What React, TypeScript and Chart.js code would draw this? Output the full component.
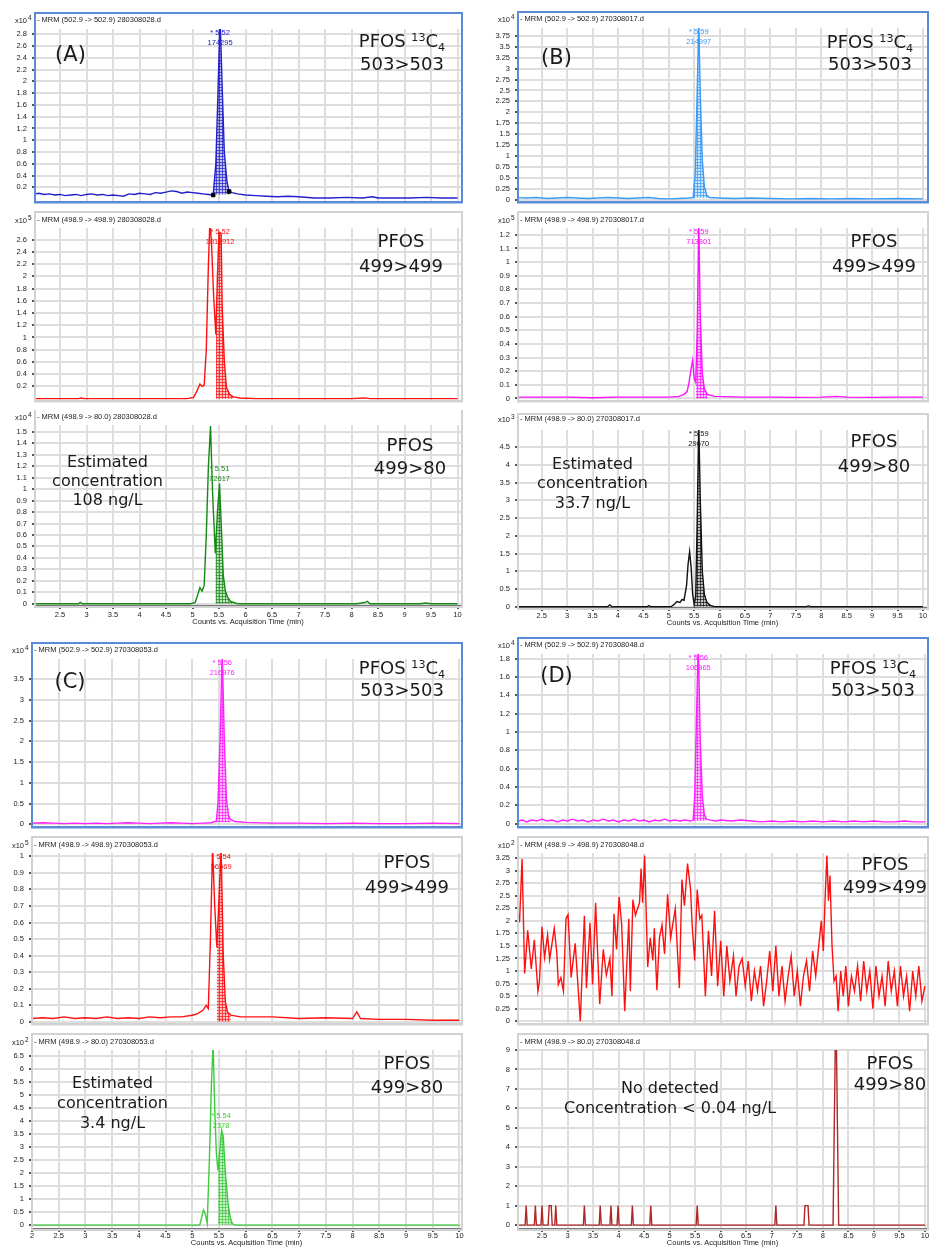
import React, { useEffect, useRef } from "react";
import { Chart, registerables } from "chart.js";

Chart.register(...registerables);

type Pt = [number, number];

const FONT = '"Liberation Sans", Arial, sans-serif';
const BIG = '"DejaVu Sans", Verdana, sans-serif';

const xTickValues = [2, 2.5, 3, 3.5, 4, 4.5, 5, 5.5, 6, 6.5, 7, 7.5, 8, 8.5, 9, 9.5, 10];
const xTitle = "Counts vs. Acquisition Time (min)";

// ---------- tick labels ----------
const a1Ticks = [0.2, 0.4, 0.6, 0.8, 1, 1.2, 1.4, 1.6, 1.8, 2, 2.2, 2.4, 2.6, 2.8];
const a2Ticks = [0.2, 0.4, 0.6, 0.8, 1, 1.2, 1.4, 1.6, 1.8, 2, 2.2, 2.4, 2.6];
const a3Ticks = [0, 0.1, 0.2, 0.3, 0.4, 0.5, 0.6, 0.7, 0.8, 0.9, 1, 1.1, 1.2, 1.3, 1.4, 1.5];
const b1Ticks = [0, 0.25, 0.5, 0.75, 1, 1.25, 1.5, 1.75, 2, 2.25, 2.5, 2.75, 3, 3.25, 3.5, 3.75];
const b2Ticks = [0, 0.1, 0.2, 0.3, 0.4, 0.5, 0.6, 0.7, 0.8, 0.9, 1, 1.1, 1.2];
const b3Ticks = [0, 0.5, 1, 1.5, 2, 2.5, 3, 3.5, 4, 4.5];
const c1Ticks = [0, 0.5, 1, 1.5, 2, 2.5, 3, 3.5];
const c2Ticks = [0, 0.1, 0.2, 0.3, 0.4, 0.5, 0.6, 0.7, 0.8, 0.9, 1];
const c3Ticks = [0, 0.5, 1, 1.5, 2, 2.5, 3, 3.5, 4, 4.5, 5, 5.5, 6, 6.5];
const d1Ticks = [0, 0.2, 0.4, 0.6, 0.8, 1, 1.2, 1.4, 1.6, 1.8];
const d2Ticks = [0, 0.25, 0.5, 0.75, 1, 1.25, 1.5, 1.75, 2, 2.25, 2.5, 2.75, 3, 3.25];
const d3Ticks = [0, 1, 2, 3, 4, 5, 6, 7, 8, 9];

// ---------- Panel A ----------
const a1Line: Pt[] = [
  [2.03, 0.09], [2.1, 0.1], [2.2, 0.08], [2.3, 0.09], [2.4, 0.07], [2.5, 0.08], [2.6, 0.06], [2.7, 0.07],
  [2.8, 0.08], [2.9, 0.06], [3.0, 0.08], [3.1, 0.09], [3.2, 0.07], [3.3, 0.08], [3.4, 0.06], [3.5, 0.07],
  [3.6, 0.06], [3.7, 0.05], [3.8, 0.09], [3.9, 0.08], [4.0, 0.1], [4.1, 0.09], [4.2, 0.08], [4.3, 0.11],
  [4.4, 0.1], [4.5, 0.12], [4.6, 0.14], [4.7, 0.13], [4.8, 0.1], [4.9, 0.12], [5.0, 0.11], [5.1, 0.1],
  [5.2, 0.09], [5.3, 0.08], [5.39, 0.07], [5.44, 0.6], [5.48, 1.8], [5.52, 3.1], [5.56, 1.9], [5.6, 0.8],
  [5.65, 0.3], [5.69, 0.13], [5.75, 0.11], [5.85, 0.09], [6.0, 0.07], [6.2, 0.06], [6.4, 0.05], [6.6, 0.04],
  [6.8, 0.05], [7.0, 0.04], [7.3, 0.02], [7.6, 0.02], [7.9, 0.03], [8.2, 0.02], [8.4, 0.04], [8.5, 0.02],
  [8.8, 0.02], [9.1, 0.02], [9.4, 0.03], [9.7, 0.02], [10.0, 0.02],
];
const a1Hatch: Pt[] = [[5.39, 0.07], [5.44, 0.6], [5.48, 1.8], [5.52, 3.1], [5.56, 1.9], [5.6, 0.8], [5.65, 0.3], [5.69, 0.13]];
const a1Marks: Pt[] = [[5.39, 0.07], [5.69, 0.13]];

const a2Line: Pt[] = [
  [2.03, 0], [2.5, 0], [2.85, 0], [2.9, 0.01], [2.95, 0], [3.5, 0], [4.0, 0], [4.5, 0], [4.9, 0],
  [5.02, 0.02], [5.08, 0.12], [5.14, 0.24], [5.18, 0.2], [5.22, 0.22], [5.26, 0.8], [5.3, 2.2], [5.33, 2.95],
  [5.36, 2.5], [5.4, 1.65], [5.44, 1.05], [5.47, 2.0], [5.5, 2.72], [5.54, 2.7], [5.56, 1.5], [5.6, 0.62],
  [5.64, 0.18], [5.7, 0.07], [5.77, 0.03], [5.9, 0.01], [6.2, 0], [7.0, 0], [8.0, 0], [8.25, 0.012],
  [8.35, 0], [9.0, 0], [10.0, 0],
];
const a2Hatch: Pt[] = [[5.44, 1.05], [5.47, 2.0], [5.5, 2.72], [5.54, 2.7], [5.56, 1.5], [5.6, 0.62], [5.64, 0.18], [5.7, 0.07], [5.77, 0.03]];

const a3Line: Pt[] = [
  [2.03, 0], [2.5, 0], [2.85, 0], [2.88, 0.012], [2.92, 0], [3.5, 0], [4.0, 0], [4.5, 0], [4.95, 0],
  [5.05, 0.01], [5.1, 0.08], [5.14, 0.14], [5.18, 0.11], [5.22, 0.16], [5.26, 0.6], [5.3, 1.2], [5.34, 1.55],
  [5.38, 0.95], [5.43, 0.44], [5.47, 0.8], [5.51, 1.05], [5.55, 0.6], [5.58, 0.25], [5.62, 0.11], [5.66, 0.06],
  [5.72, 0.02], [5.85, 0], [6.5, 0], [7.0, 0], [7.5, 0], [8.1, 0], [8.25, 0.01], [8.3, 0.02], [8.35, 0],
  [9.3, 0], [9.4, 0.006], [9.5, 0], [10, 0],
];
const a3Hatch: Pt[] = [[5.43, 0.44], [5.47, 0.8], [5.51, 1.05], [5.55, 0.6], [5.58, 0.25], [5.62, 0.11], [5.66, 0.06], [5.72, 0.02], [5.8, 0.01]];

// ---------- Panel B ----------
const b1Line: Pt[] = [
  [2.03, 0.05], [2.2, 0.04], [2.4, 0.05], [2.6, 0.03], [2.8, 0.04], [3.0, 0.05], [3.2, 0.04], [3.4, 0.03],
  [3.6, 0.04], [3.8, 0.05], [4.0, 0.04], [4.2, 0.03], [4.4, 0.04], [4.6, 0.05], [4.8, 0.03], [5.0, 0.02],
  [5.2, 0.03], [5.4, 0.04], [5.48, 0.05], [5.52, 0.6], [5.56, 2.5], [5.59, 4.1], [5.62, 2.4], [5.66, 0.9],
  [5.7, 0.3], [5.75, 0.1], [5.8, 0.05], [6.0, 0.04], [6.3, 0.03], [6.6, 0.04], [7.0, 0.03], [7.4, 0.02],
  [7.8, 0.03], [8.2, 0.02], [8.6, 0.03], [9.0, 0.02], [9.5, 0.03], [10.0, 0.02],
];
const b1Hatch: Pt[] = [[5.48, 0.05], [5.52, 0.6], [5.56, 2.5], [5.59, 4.1], [5.62, 2.4], [5.66, 0.9], [5.7, 0.3], [5.75, 0.1], [5.8, 0.05]];

const b2Line: Pt[] = [
  [2.03, 0.01], [2.5, 0.01], [3.0, 0.01], [3.5, 0.005], [4.0, 0.01], [4.5, 0.01], [5.0, 0.01], [5.2, 0.015],
  [5.3, 0.03], [5.36, 0.05], [5.4, 0.12], [5.44, 0.22], [5.47, 0.28], [5.5, 0.15], [5.53, 0.12], [5.56, 0.5],
  [5.59, 1.3], [5.62, 0.6], [5.66, 0.18], [5.7, 0.07], [5.76, 0.03], [5.9, 0.015], [6.5, 0.01], [7.0, 0.01],
  [7.5, 0.008], [8.0, 0.01], [8.3, 0.015], [8.5, 0.01], [9.0, 0.008], [9.5, 0.01], [10, 0.01],
];
const b2Hatch: Pt[] = [[5.53, 0.12], [5.56, 0.5], [5.59, 1.3], [5.62, 0.6], [5.66, 0.18], [5.7, 0.07], [5.76, 0.03]];

const b3Line: Pt[] = [
  [2.03, 0], [2.5, 0], [3.0, 0], [3.5, 0], [3.8, 0], [3.84, 0.05], [3.88, 0], [4.2, 0], [4.58, 0],
  [4.61, 0.03], [4.64, 0], [5.05, 0], [5.12, 0.08], [5.16, 0.14], [5.22, 0.12], [5.26, 0.2], [5.3, 0.18],
  [5.35, 0.6], [5.38, 1.2], [5.41, 1.55], [5.44, 1.1], [5.47, 0.35], [5.5, 0.06], [5.53, 0.3], [5.56, 2.5],
  [5.59, 5.2], [5.62, 3.0], [5.66, 1.0], [5.7, 0.35], [5.75, 0.12], [5.82, 0.03], [5.9, 0], [6.5, 0],
  [7.0, 0], [7.7, 0], [7.75, 0.02], [7.8, 0], [8.5, 0], [9.0, 0], [10, 0],
];
const b3Hatch: Pt[] = [[5.5, 0.06], [5.53, 0.3], [5.56, 2.5], [5.59, 5.2], [5.62, 3.0], [5.66, 1.0], [5.7, 0.35], [5.75, 0.12], [5.82, 0.03]];

// ---------- Panel C ----------
const c1Line: Pt[] = [
  [2.0, 0.03], [2.2, 0.04], [2.4, 0.03], [2.6, 0.02], [2.8, 0.03], [3.0, 0.02], [3.2, 0.03], [3.4, 0.02],
  [3.6, 0.03], [3.8, 0.04], [4.0, 0.03], [4.2, 0.02], [4.4, 0.03], [4.6, 0.04], [4.8, 0.03], [5.0, 0.02],
  [5.2, 0.03], [5.35, 0.04], [5.45, 0.08], [5.48, 0.5], [5.52, 2.0], [5.56, 4.2], [5.6, 2.0], [5.64, 0.6],
  [5.68, 0.2], [5.72, 0.12], [5.8, 0.07], [6.0, 0.05], [6.5, 0.03], [7.0, 0.03], [7.5, 0.02], [8.0, 0.03],
  [8.5, 0.02], [9.0, 0.02], [9.5, 0.03], [10.0, 0.02],
];
const c1Hatch: Pt[] = [[5.45, 0.08], [5.48, 0.5], [5.52, 2.0], [5.56, 4.2], [5.6, 2.0], [5.64, 0.6], [5.68, 0.2], [5.72, 0.12]];

const c2Line: Pt[] = [
  [2.0, 0.02], [2.2, 0.025], [2.4, 0.02], [2.6, 0.03], [2.8, 0.02], [3.0, 0.025], [3.2, 0.02], [3.4, 0.03],
  [3.6, 0.02], [3.8, 0.025], [4.0, 0.02], [4.2, 0.03], [4.4, 0.025], [4.6, 0.03], [4.8, 0.03], [5.0, 0.04],
  [5.1, 0.05], [5.2, 0.07], [5.26, 0.1], [5.3, 0.08], [5.34, 0.5], [5.38, 1.05], [5.42, 0.7], [5.46, 0.45],
  [5.5, 0.75], [5.54, 1.05], [5.58, 0.4], [5.62, 0.12], [5.66, 0.06], [5.72, 0.04], [5.9, 0.03], [6.5, 0.03],
  [7.0, 0.02], [7.5, 0.025], [8.0, 0.02], [8.08, 0.06], [8.15, 0.02], [8.5, 0.015], [9.0, 0.015], [9.5, 0.01],
  [10.0, 0.01],
];
const c2Hatch: Pt[] = [[5.46, 0.45], [5.5, 0.75], [5.54, 1.05], [5.58, 0.4], [5.62, 0.12], [5.66, 0.06], [5.72, 0.04]];

const c3Line: Pt[] = [
  [2.0, 0], [3.0, 0], [4.0, 0], [5.0, 0], [5.14, 0], [5.21, 0.58], [5.24, 0.45], [5.28, 0.07], [5.32, 2.5],
  [5.36, 5.5], [5.39, 7.0], [5.42, 4.5], [5.45, 2.8], [5.48, 2.1], [5.52, 3.0], [5.55, 3.65], [5.58, 3.4],
  [5.62, 2.0], [5.67, 0.84], [5.71, 0.3], [5.75, 0.05], [5.8, 0], [7.0, 0], [8.0, 0], [10.0, 0],
];
const c3Hatch: Pt[] = [[5.48, 2.1], [5.52, 3.0], [5.55, 3.65], [5.58, 3.4], [5.62, 2.0], [5.67, 0.84], [5.71, 0.3], [5.75, 0.05]];

// ---------- Panel D ----------
const d1Line: Pt[] = [
  [2.03, 0.03], [2.12, 0.04], [2.2, 0.02], [2.3, 0.04], [2.4, 0.03], [2.5, 0.05], [2.6, 0.03], [2.7, 0.04],
  [2.8, 0.02], [2.9, 0.04], [3.0, 0.03], [3.1, 0.05], [3.2, 0.03], [3.3, 0.04], [3.4, 0.02], [3.5, 0.04],
  [3.6, 0.03], [3.7, 0.05], [3.8, 0.03], [3.9, 0.04], [4.0, 0.02], [4.1, 0.04], [4.2, 0.03], [4.3, 0.05],
  [4.4, 0.03], [4.5, 0.04], [4.6, 0.02], [4.7, 0.04], [4.8, 0.03], [4.9, 0.05], [5.0, 0.03], [5.1, 0.04],
  [5.2, 0.03], [5.3, 0.04], [5.4, 0.03], [5.46, 0.04], [5.49, 0.3], [5.52, 1.0], [5.56, 2.0], [5.6, 0.9],
  [5.64, 0.3], [5.68, 0.1], [5.72, 0.05], [5.8, 0.04], [5.9, 0.03], [6.0, 0.04], [6.2, 0.03], [6.4, 0.04],
  [6.6, 0.03], [6.8, 0.02], [7.0, 0.03], [7.2, 0.02], [7.4, 0.03], [7.6, 0.02], [7.8, 0.03], [8.0, 0.02],
  [8.2, 0.03], [8.4, 0.02], [8.6, 0.03], [8.8, 0.02], [9.0, 0.03], [9.2, 0.02], [9.4, 0.02], [9.6, 0.03],
  [9.8, 0.02], [10.0, 0.02],
];
const d1Hatch: Pt[] = [[5.46, 0.04], [5.49, 0.3], [5.52, 1.0], [5.56, 2.0], [5.6, 0.9], [5.64, 0.3], [5.68, 0.1], [5.72, 0.05]];

const d2Line: Pt[] = [
  [2.03, 2.2], [2.06, 1.97], [2.11, 3.23], [2.16, 0.95], [2.22, 1.81], [2.29, 1.04], [2.35, 1.62], [2.42, 0.6],
  [2.45, 0.8], [2.5, 1.88], [2.55, 1.27], [2.61, 1.72], [2.65, 1.23], [2.74, 1.85], [2.79, 1.37], [2.82, 0.73],
  [2.87, 0.87], [2.92, 0.6], [2.97, 2.05], [3.01, 2.12], [3.07, 0.87], [3.15, 1.55], [3.25, 0.0], [3.33, 2.1],
  [3.37, 0.66], [3.44, 1.96], [3.49, 0.73], [3.55, 2.36], [3.63, 0.34], [3.7, 1.43], [3.76, 0.92], [3.83, 1.25],
  [3.87, 0.5], [3.91, 2.14], [3.96, 1.43], [4.01, 2.48], [4.06, 1.93], [4.12, 0.2], [4.2, 2.04], [4.23, 0.6],
  [4.28, 2.42], [4.33, 2.11], [4.41, 2.36], [4.44, 3.04], [4.47, 2.36], [4.51, 3.3], [4.57, 1.08], [4.62, 1.66],
  [4.67, 1.21], [4.7, 1.85], [4.75, 0.62], [4.8, 1.66], [4.85, 1.92], [4.9, 1.34], [4.96, 2.53], [5.02, 1.66],
  [5.06, 1.92], [5.11, 2.24], [5.19, 0.66], [5.24, 2.82], [5.29, 2.3], [5.35, 3.14], [5.41, 2.62], [5.44, 1.92],
  [5.49, 1.21], [5.54, 2.62], [5.59, 2.04], [5.63, 2.11], [5.7, 0.5], [5.76, 1.8], [5.82, 0.9], [5.88, 2.2],
  [5.94, 0.7], [6.0, 1.6], [6.06, 0.5], [6.12, 1.5], [6.18, 0.8], [6.25, 1.3], [6.3, 0.5], [6.36, 1.1],
  [6.42, 1.25], [6.48, 0.7], [6.54, 1.2], [6.6, 0.4], [6.66, 1.0], [6.72, 0.6], [6.78, 1.1], [6.84, 0.3],
  [6.9, 0.8], [6.96, 1.4], [7.02, 0.6], [7.08, 1.5], [7.14, 0.5], [7.2, 1.1], [7.26, 0.4], [7.32, 0.9],
  [7.38, 1.3], [7.44, 0.5], [7.5, 1.0], [7.56, 0.3], [7.62, 0.9], [7.68, 1.2], [7.74, 0.6], [7.8, 1.4],
  [7.86, 0.9], [7.92, 1.5], [7.97, 2.0], [8.01, 1.4], [8.05, 2.6], [8.08, 3.3], [8.11, 2.4], [8.14, 2.9],
  [8.18, 1.5], [8.22, 0.8], [8.26, 0.9], [8.3, 0.2], [8.35, 1.0], [8.4, 0.5], [8.45, 1.1], [8.5, 0.3],
  [8.56, 0.9], [8.62, 0.6], [8.68, 1.1], [8.74, 0.4], [8.8, 1.2], [8.86, 0.6], [8.92, 1.0], [8.98, 0.25],
  [9.04, 1.1], [9.1, 0.5], [9.16, 0.9], [9.22, 0.3], [9.28, 1.2], [9.34, 0.6], [9.4, 1.0], [9.46, 0.3],
  [9.52, 1.1], [9.58, 0.5], [9.64, 0.9], [9.7, 0.2], [9.76, 1.0], [9.82, 0.5], [9.88, 1.1], [9.94, 0.4],
  [10.0, 0.7],
];

const d3Line: Pt[] = [
  [2.03, 0], [2.17, 0], [2.19, 1], [2.21, 0], [2.35, 0], [2.37, 1], [2.39, 0], [2.48, 0], [2.5, 1], [2.52, 0],
  [2.62, 0], [2.64, 1], [2.68, 1], [2.7, 0], [2.75, 0], [2.77, 1], [2.79, 0], [3.31, 0], [3.33, 1], [3.35, 0],
  [3.62, 0], [3.64, 1], [3.66, 0], [3.83, 0], [3.85, 1], [3.87, 0], [3.97, 0], [3.99, 1], [4.01, 0],
  [4.25, 0], [4.27, 1], [4.29, 0], [4.61, 0], [4.63, 1], [4.65, 0], [5.52, 0], [5.54, 1], [5.56, 0],
  [7.06, 0], [7.08, 1], [7.1, 0], [7.63, 0], [7.65, 1], [7.71, 1], [7.73, 0], [8.2, 0], [8.245, 9.5],
  [8.265, 9.5], [8.31, 0], [10.0, 0],
];

// ---------- chart configs ----------
type Cfg = {
  id: string;
  cl: number; ct: number; w: number; h: number;
  pl: number; pr: number; pt: number; pb: number;
  xMin: number; xMax: number; yMin: number; yMax: number; yTicks: number[];
  color: string; line: Pt[]; hatch?: Pt[]; hatchBase?: number; marks?: Pt[];
  peak?: { t: number; apex: number; l1: string; l2: string };
  header: string; exp?: string; frame: "blue" | "gray"; bottom?: boolean;
  tickDy?: number; titleDy?: number; headerDy?: number;
};

const LW = 466, RL = 466, RW = 463;

const charts: Cfg[] = [
  { id: "a1", cl: 0, ct: 6, w: LW, h: 205, pl: 35, pr: 461, pt: 29, pb: 208, xMin: 2.028, xMax: 10.066, yMin: -0.04, yMax: 2.89, yTicks: a1Ticks,
    color: "#2020cc", line: a1Line, hatch: a1Hatch, hatchBase: 0.08, marks: a1Marks, peak: { t: 5.52, apex: 3.1, l1: "* 5.52", l2: "174295" },
    header: "- MRM (502.9 -> 502.9) 280308028.d", exp: "4", frame: "blue" },
  { id: "a2", cl: 0, ct: 211, w: LW, h: 199, pl: 35, pr: 461, pt: 228, pb: 406, xMin: 2.028, xMax: 10.066, yMin: -0.03, yMax: 2.79, yTicks: a2Ticks,
    color: "#ff1010", line: a2Line, hatch: a2Hatch, hatchBase: 0, peak: { t: 5.52, apex: 2.72, l1: "* 5.52", l2: "1811912" },
    header: "- MRM (498.9 -> 498.9) 280308028.d", exp: "5", frame: "gray", headerDy: 8 },
  { id: "a3", cl: 0, ct: 410, w: LW, h: 222, pl: 35, pr: 461, pt: 425, pb: 606, xMin: 2.028, xMax: 10.066, yMin: -0.02, yMax: 1.56, yTicks: a3Ticks,
    color: "#148a14", line: a3Line, hatch: a3Hatch, hatchBase: 0, peak: { t: 5.51, apex: 1.05, l1: "* 5.51", l2: "72617" },
    header: "- MRM (498.9 -> 80.0) 280308028.d", exp: "4", frame: "gray", bottom: true, tickDy: 9, titleDy: 16, headerDy: 8 },

  { id: "b1", cl: RL, ct: 6, w: RW, h: 205, pl: 518, pr: 927, pt: 28, pb: 208, xMin: 2.034, xMax: 10.08, yMin: -0.04, yMax: 3.93, yTicks: b1Ticks,
    color: "#3a9af5", line: b1Line, hatch: b1Hatch, hatchBase: 0.04, peak: { t: 5.59, apex: 4.1, l1: "* 5.59", l2: "214997" },
    header: "- MRM (502.9 -> 502.9) 270308017.d", exp: "4", frame: "blue" },
  { id: "b2", cl: RL, ct: 211, w: RW, h: 199, pl: 518, pr: 927, pt: 228, pb: 408, xMin: 2.034, xMax: 10.08, yMin: -0.015, yMax: 1.25, yTicks: b2Ticks,
    color: "#ff10ff", line: b2Line, hatch: b2Hatch, hatchBase: 0, peak: { t: 5.59, apex: 1.3, l1: "* 5.59", l2: "713801" },
    header: "- MRM (498.9 -> 498.9) 270308017.d", exp: "5", frame: "gray", headerDy: 8 },
  { id: "b3", cl: RL, ct: 410, w: RW, h: 222, pl: 518, pr: 927, pt: 430, pb: 608, xMin: 2.034, xMax: 10.08, yMin: -0.04, yMax: 4.99, yTicks: b3Ticks,
    color: "#111111", line: b3Line, hatch: b3Hatch, hatchBase: 0, peak: { t: 5.59, apex: 5.2, l1: "* 5.59", l2: "29670" },
    header: "- MRM (498.9 -> 80.0) 270308017.d", exp: "3", frame: "gray", bottom: true, tickDy: 8, titleDy: 15, headerDy: 11 },

  { id: "c1", cl: 0, ct: 632, w: LW, h: 204, pl: 32, pr: 461, pt: 659, pb: 835, xMin: 2.0, xMax: 10.03, yMin: -0.05, yMax: 3.98, yTicks: c1Ticks,
    color: "#ff20ff", line: c1Line, hatch: c1Hatch, hatchBase: 0.05, peak: { t: 5.56, apex: 4.2, l1: "* 5.56", l2: "216976" },
    header: "- MRM (502.9 -> 502.9) 270308053.d", exp: "4", frame: "blue" },
  { id: "c2", cl: 0, ct: 836, w: LW, h: 197, pl: 32, pr: 461, pt: 853, pb: 1030, xMin: 2.0, xMax: 10.03, yMin: -0.01, yMax: 1.02, yTicks: c2Ticks,
    color: "#ff1010", line: c2Line, hatch: c2Hatch, hatchBase: 0, peak: { t: 5.54, apex: 1.05, l1: "* 5.54", l2: "56569" },
    header: "- MRM (498.9 -> 498.9) 270308053.d", exp: "5", frame: "gray", headerDy: 8 },
  { id: "c3", cl: 0, ct: 1033, w: LW, h: 215, pl: 32, pr: 461, pt: 1050, pb: 1229, xMin: 2.0, xMax: 10.03, yMin: -0.15, yMax: 6.73, yTicks: c3Ticks,
    color: "#3ccc3c", line: c3Line, hatch: c3Hatch, hatchBase: 0, peak: { t: 5.54, apex: 3.65, l1: "* 5.54", l2: "2378" },
    header: "- MRM (498.9 -> 80.0) 270308053.d", exp: "2", frame: "gray", bottom: true, tickDy: 7, titleDy: 14, headerDy: 8 },

  { id: "d1", cl: RL, ct: 632, w: RW, h: 204, pl: 518, pr: 927, pt: 654, pb: 834, xMin: 2.03, xMax: 10.04, yMin: -0.03, yMax: 1.85, yTicks: d1Ticks,
    color: "#ff20ff", line: d1Line, hatch: d1Hatch, hatchBase: 0.03, peak: { t: 5.56, apex: 2.0, l1: "* 5.56", l2: "106965" },
    header: "- MRM (502.9 -> 502.9) 270308048.d", exp: "4", frame: "blue" },
  { id: "d2", cl: RL, ct: 836, w: RW, h: 197, pl: 518, pr: 927, pt: 853, pb: 1030, xMin: 2.03, xMax: 10.04, yMin: -0.045, yMax: 3.35, yTicks: d2Ticks,
    color: "#ff1010", line: d2Line,
    header: "- MRM (498.9 -> 498.9) 270308048.d", exp: "2", frame: "gray", headerDy: 8 },
  { id: "d3", cl: RL, ct: 1033, w: RW, h: 215, pl: 518, pr: 927, pt: 1050, pb: 1229, xMin: 2.03, xMax: 10.04, yMin: -0.2, yMax: 9.0, yTicks: d3Ticks,
    color: "#b02828", line: d3Line,
    header: "- MRM (498.9 -> 80.0) 270308048.d", frame: "gray", bottom: true, tickDy: 7, titleDy: 14, headerDy: 8 },
];

function makeHatch(color: string): CanvasPattern | string {
  const c = document.createElement("canvas");
  c.width = 3;
  c.height = 3;
  const g = c.getContext("2d");
  if (!g) return color;
  g.globalAlpha = 0.25;
  g.fillStyle = color;
  g.fillRect(0, 0, 3, 3);
  g.globalAlpha = 0.7;
  g.fillRect(0, 0, 3, 1);
  g.fillRect(0, 0, 1, 3);
  return g.createPattern(c, "repeat") || color;
}

function Trace({ cfg }: { cfg: Cfg }) {
  const ref = useRef<HTMLCanvasElement>(null);
  useEffect(() => {
    const canvas = ref.current;
    if (!canvas) return;
    const toXY = (p: Pt[]) => p.map(([x, y]) => ({ x, y }));
    const datasets: any[] = [];
    if (cfg.marks) {
      datasets.push({ data: toXY(cfg.marks), showLine: false, pointStyle: "rect", pointRadius: 2.5, backgroundColor: "#000", borderColor: "#000", borderWidth: 1 });
    }
    datasets.push({ data: toXY(cfg.line), borderColor: cfg.color, borderWidth: 1.4, pointRadius: 0, fill: false, tension: 0 });
    if (cfg.hatch) {
      datasets.push({ data: toXY(cfg.hatch), borderWidth: 0, borderColor: "rgba(0,0,0,0)", pointRadius: 0, tension: 0,
        fill: { value: cfg.hatchBase ?? 0 }, backgroundColor: makeHatch(cfg.color) });
    }
    const overlay = {
      id: "ov_" + cfg.id,
      afterDraw(chart: any) {
        const ctx = chart.ctx as CanvasRenderingContext2D;
        const ca = chart.chartArea;
        const xs = chart.scales.x;
        const ys = chart.scales.y;
        ctx.save();
        ctx.lineWidth = 2;
        ctx.strokeStyle = cfg.frame === "blue" ? "#5b8bd6" : "#d2d2d2";
        ctx.strokeRect(ca.left, ca.top - 16, ca.right - ca.left + 1, ca.bottom - ca.top + 17);
        const hy = ca.top - (cfg.headerDy ?? 9);
        ctx.fillStyle = "#222";
        ctx.textBaseline = "middle";
        ctx.font = `7.5px ${FONT}`;
        ctx.textAlign = "left";
        ctx.fillText(cfg.header, ca.left + 2, hy);
        if (cfg.exp) {
          ctx.textAlign = "right";
          ctx.fillText("x10", ca.left - 8, hy + 1);
          ctx.font = `6.5px ${FONT}`;
          ctx.textAlign = "left";
          ctx.fillText(cfg.exp, ca.left - 7, hy - 2);
        }
        if (cfg.peak) {
          const px = xs.getPixelForValue(cfg.peak.t);
          const ap = ys.getPixelForValue(cfg.peak.apex);
          const y1 = Math.max(ca.top + 4, ap - 14);
          ctx.font = `7.5px ${FONT}`;
          ctx.textAlign = "center";
          ctx.fillStyle = cfg.color;
          ctx.fillText(cfg.peak.l1, px, y1);
          ctx.fillText(cfg.peak.l2, px, y1 + 10);
        }
        if (cfg.bottom) {
          ctx.fillStyle = "#222";
          ctx.font = `7.5px ${FONT}`;
          ctx.textAlign = "center";
          for (const v of xTickValues) {
            if (v < cfg.xMin - 1e-9 || v > cfg.xMax + 1e-9) continue;
            ctx.fillText(String(v), xs.getPixelForValue(v), ca.bottom + (cfg.tickDy ?? 8));
          }
          ctx.fillText(xTitle, (ca.left + ca.right) / 2, ca.bottom + (cfg.titleDy ?? 15));
        }
        ctx.restore();
      },
    };
    const chart = new Chart(canvas, {
      type: "line",
      data: { datasets },
      options: {
        animation: false,
        responsive: false,
        devicePixelRatio: 1,
        events: [],
        layout: { padding: { top: cfg.pt - cfg.ct, right: cfg.cl + cfg.w - cfg.pr, left: 0, bottom: 0 } },
        plugins: { legend: { display: false }, tooltip: { enabled: false } },
        scales: {
          x: {
            type: "linear",
            min: cfg.xMin,
            max: cfg.xMax,
            afterBuildTicks: (s: any) => {
              s.ticks = xTickValues.filter((v) => v >= cfg.xMin && v <= cfg.xMax).map((v) => ({ value: v }));
            },
            afterFit: (s: any) => {
              s.height = cfg.ct + cfg.h - cfg.pb;
            },
            ticks: { display: false },
            grid: { color: "#dedede", lineWidth: 2, drawTicks: !!cfg.bottom, tickLength: 3, tickColor: "#555" },
            border: { display: true, color: cfg.bottom ? "#777" : cfg.frame === "blue" ? "#5b8bd6" : "#cfcfcf", width: 2 },
          },
          y: {
            type: "linear",
            min: cfg.yMin,
            max: cfg.yMax,
            afterBuildTicks: (s: any) => {
              s.ticks = cfg.yTicks.filter((v) => v >= cfg.yMin && v <= cfg.yMax).map((v) => ({ value: v }));
            },
            afterFit: (s: any) => {
              s.width = cfg.pl - cfg.cl;
            },
            ticks: { autoSkip: false, font: { size: 7.5, family: FONT }, color: "#222", padding: 5, callback: (v: any) => String(v) },
            grid: { color: "#dedede", lineWidth: 2, tickLength: 3, tickColor: "#555" },
            border: { display: true, color: "#666", width: 2 },
          },
        },
      } as any,
      plugins: [overlay],
    });
    return () => chart.destroy();
  }, [cfg]);
  return (
    <canvas
      ref={ref}
      width={cfg.w}
      height={cfg.h}
      style={{ position: "absolute", left: cfg.cl, top: cfg.ct, width: cfg.w, height: cfg.h }}
    />
  );
}

type Note = { x: number; y: number; size: number; content: React.ReactNode };

const sup = (t: string) => <span style={{ fontSize: "0.62em", position: "relative", top: "-0.55em" }}>{t}</span>;
const sub = (t: string) => <span style={{ fontSize: "0.62em", position: "relative", top: "0.35em" }}>{t}</span>;
const pfosIS = <>PFOS {sup("13")}C{sub("4")}</>;

const notes: Note[] = [
  { x: 70.5, y: 54, size: 21, content: "(A)" },
  { x: 402, y: 41, size: 18, content: pfosIS },
  { x: 402, y: 64, size: 18, content: "503>503" },
  { x: 401, y: 241, size: 18, content: "PFOS" },
  { x: 401, y: 266, size: 18, content: "499>499" },
  { x: 410, y: 445, size: 18, content: "PFOS" },
  { x: 410, y: 468, size: 18, content: "499>80" },
  { x: 107.5, y: 462, size: 16, content: "Estimated" },
  { x: 107.5, y: 481, size: 16, content: "concentration" },
  { x: 107.5, y: 500, size: 16, content: "108 ng/L" },

  { x: 556.5, y: 57, size: 21, content: "(B)" },
  { x: 870, y: 42, size: 18, content: pfosIS },
  { x: 870, y: 64, size: 18, content: "503>503" },
  { x: 874, y: 241, size: 18, content: "PFOS" },
  { x: 874, y: 266, size: 18, content: "499>499" },
  { x: 874, y: 441, size: 18, content: "PFOS" },
  { x: 874, y: 466, size: 18, content: "499>80" },
  { x: 592.5, y: 464, size: 16, content: "Estimated" },
  { x: 592.5, y: 483, size: 16, content: "concentration" },
  { x: 592.5, y: 503, size: 16, content: "33.7 ng/L" },

  { x: 70, y: 681, size: 21, content: "(C)" },
  { x: 402, y: 668, size: 18, content: pfosIS },
  { x: 402, y: 690, size: 18, content: "503>503" },
  { x: 407, y: 862, size: 18, content: "PFOS" },
  { x: 407, y: 887, size: 18, content: "499>499" },
  { x: 407, y: 1063, size: 18, content: "PFOS" },
  { x: 407, y: 1087, size: 18, content: "499>80" },
  { x: 112.5, y: 1083, size: 16, content: "Estimated" },
  { x: 112.5, y: 1103, size: 16, content: "concentration" },
  { x: 112.5, y: 1123, size: 16, content: "3.4 ng/L" },

  { x: 556.5, y: 675, size: 21, content: "(D)" },
  { x: 873, y: 668, size: 18, content: pfosIS },
  { x: 873, y: 690, size: 18, content: "503>503" },
  { x: 885, y: 864, size: 18, content: "PFOS" },
  { x: 885, y: 887, size: 18, content: "499>499" },
  { x: 890, y: 1063, size: 18, content: "PFOS" },
  { x: 890, y: 1084, size: 18, content: "499>80" },
  { x: 670, y: 1088, size: 16, content: "No detected" },
  { x: 670, y: 1108, size: 16, content: "Concentration < 0.04 ng/L" },
];

export default function App() {
  return (
    <div style={{ position: "absolute", left: 0, top: 0, width: 929, height: 1248, background: "#fff", overflow: "hidden" }}>
      {charts.map((c) => (
        <Trace key={c.id} cfg={c} />
      ))}
      {notes.map((n, i) => (
        <div
          key={i}
          style={{
            position: "absolute",
            left: n.x,
            top: n.y,
            transform: "translate(-50%, -50%)",
            whiteSpace: "nowrap",
            fontFamily: BIG,
            fontSize: n.size,
            lineHeight: 1,
            color: "#1a1a1a",
          }}
        >
          {n.content}
        </div>
      ))}
    </div>
  );
}
